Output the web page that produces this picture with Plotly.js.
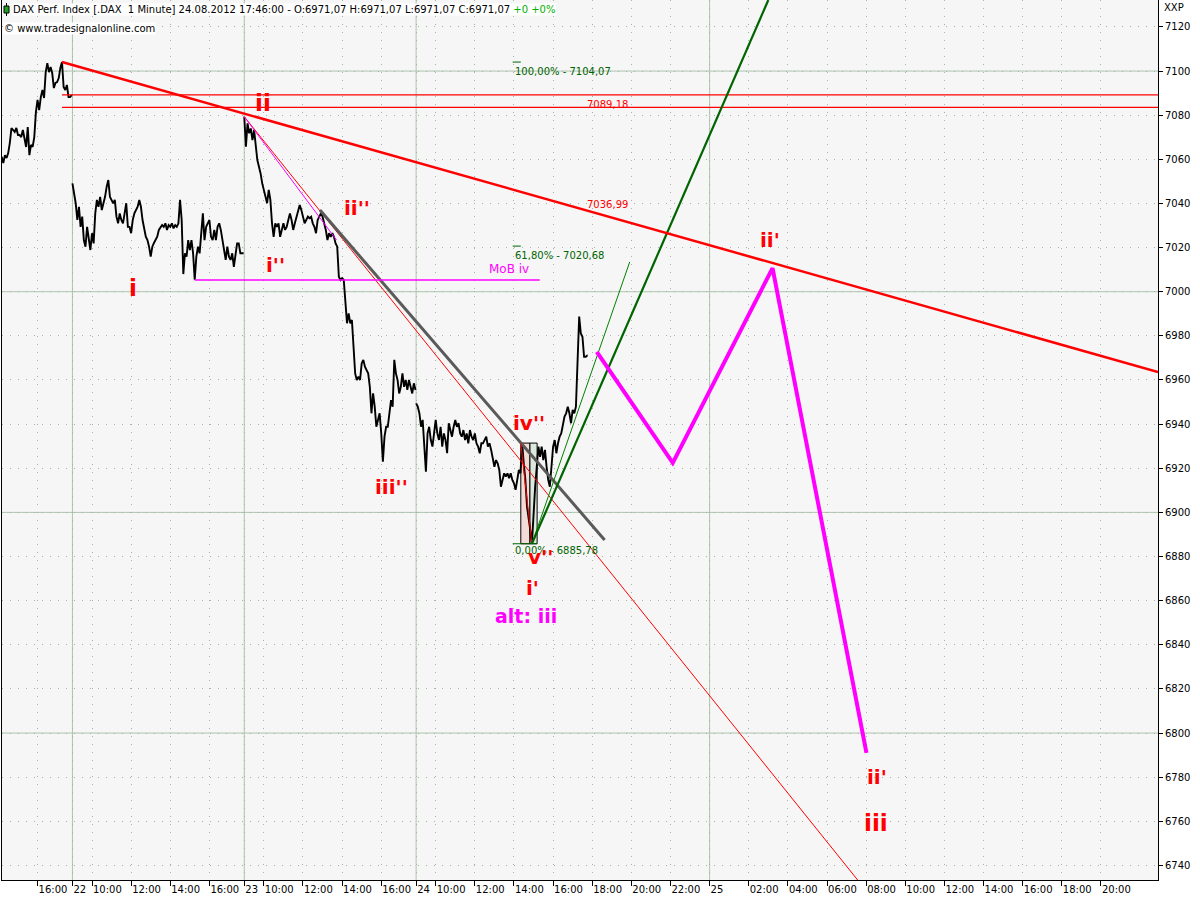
<!DOCTYPE html>
<html><head><meta charset="utf-8">
<script src="https://cdn.plot.ly/plotly-3.0.1.min.js"></script>
<style>html,body{margin:0;padding:0;background:#fff;}#chart{width:1200px;height:900px;}</style>
</head><body><div id="chart"></div>
<script>
// ===================== DATA =====================
const stepMin = 5;
const day21Start = '2012-08-21 14:10';
const day21Close = [7061.2,7058.3,7061.9,7060.6,7062.8,7067.4,7074.2,7073.3,7072.4,7074.2,
7071.0,7071.0,7070.1,7073.3,7070.1,7065.6,7074.6,7061.9,7066.5,7065.6,
7070.1,7081.4,7086.9,7082.3,7088.2,7091.4,7087.8,7099.5,7103.6,7099.5,
7101.8,7099.1,7092.3,7094.6,7095.0,7096.8,7101.4,7104.07,7092.8,7091.4,
7093.7,7088.2,7088.2,7089.18];
const day22Start = '2012-08-22 09:00';
const day22Close = [7049.1,7044.6,7040.1,7032.5,7038.5,7029.4,7034.0,7023.4,7020.4,7029.4,
7023.4,7018.9,7026.5,7021.9,7035.5,7041.6,7038.5,7043.0,7037.0,7040.1,
7043.0,7047.6,7050.6,7043.0,7041.6,7040.1,7041.6,7034.0,7031.0,7035.5,
7032.5,7031.0,7035.5,7040.1,7029.4,7029.4,7026.5,7032.5,7035.5,7037.0,
7038.5,7041.6,7038.5,7032.5,7029.4,7024.9,7023.4,7020.4,7015.9,7020.4,
7022.1,7023.4,7024.9,7028.0,7029.4,7030.2,7029.4,7031.0,7028.0,7030.2,
7029.4,7031.0,7028.7,7030.2,7029.4,7031.0,7041.6,7032.5,7008.0,7017.4,
7015.9,7023.4,7018.9,7023.4,7017.4,7005.5,7015.9,7020.4,7017.4,7026.5,
7035.5,7023.4,7029.4,7031.0,7032.5,7024.9,7023.4,7028.0,7023.4,7029.4,
7031.0,7028.0,7023.4,7018.9,7014.4,7020.4,7015.9,7014.4,7017.4,7011.3,
7015.9,7021.9,7021.9,7017.4,7017.4,7017.4];
const day23Start = '2012-08-23 09:00';
const day23Close = [7079.3,7065.7,7076.3,7071.8,7074.0,7068.7,7073.3,7067.2,7059.7,7056.6,
7053.6,7049.1,7046.1,7043.0,7040.1,7046.1,7041.6,7031.0,7024.9,7031.0,
7029.4,7031.0,7024.9,7028.0,7031.0,7028.0,7029.4,7032.5,7035.5,7032.5,
7028.0,7031.0,7034.0,7037.0,7039.3,7037.0,7034.0,7031.0,7032.5,7034.0,
7033.3,7034.0,7031.0,7029.4,7026.5,7032.5,7034.0,7035.5,7034.0,7031.0,
7028.0,7023.4,7026.5,7024.9,7026.5,7024.9,7021.9,7020.4,7006.8,7005.3,
7006.1,7005.3,6993.2,6985.7,6990.2,6985.7,6987.2,6976.6,6963.0,6960.0,
6961.5,6960.0,6967.5,6969.1,6966.0,6964.5,6963.0,6956.9,6944.9,6953.9,
6947.9,6938.8,6941.9,6944.9,6935.8,6923.0,6934.3,6938.8,6938.8,6944.9,
6950.9,6947.9,6969.1,6963.0,6960.0,6953.9,6956.9,6963.0,6956.9,6960.0,
6955.5,6960.0,6956.9,6953.9,6958.5,6955.5];
const day24Start = '2012-08-24 09:00';
const day24Close = [6949.4,6947.9,6944.9,6938.8,6941.9,6931.3,6918.4,6935.8,6938.8,6932.8,
6929.8,6935.8,6941.9,6935.8,6932.8,6938.8,6929.8,6935.8,6932.8,6926.8,
6940.4,6937.3,6934.3,6938.8,6941.9,6938.8,6940.4,6935.8,6934.3,6937.3,
6932.8,6935.8,6931.3,6937.3,6934.3,6932.8,6935.8,6931.3,6929.8,6926.8,
6931.3,6931.3,6932.8,6934.3,6929.8,6931.3,6928.3,6925.2,6920.7,6923.7,
6922.2,6919.2,6911.6,6914.7,6917.7,6916.2,6917.7,6915.5,6917.7,6914.7,
6913.2,6910.2,6914.7,6919.2,6917.7,6931.4,6922.2,6914.7,6902.6,6898.1,
6892.0,6885.78,6899.6,6911.6,6920.7,6929.8,6925.2,6929.8,6923.7,6928.3,
6920.7,6914.7,6911.6,6919.2,6929.8,6932.8,6926.8,6931.3,6934.3,6935.8,
6940.4,6943.4,6944.9,6947.9,6944.9,6940.4,6946.4,6944.9,6947.9,6966.0,
6988.7,6981.1,6979.6,6970.5,6970.5,6971.07];
const lastBarTime = '2012-08-24 17:46';
const lastBarClose = 6971.07;

// trend / projection lines
const redTrendX = ['2012-08-21 17:15','2012-08-25 22:55'];
const redTrendY = [7104.07, 6963.6];
const level1 = 7089.18, level2 = 7083.5;
const levelX = ['2012-08-21 17:15','2012-08-25 22:55'];
const redThinX = ['2012-08-23 09:00','2012-08-25 07:34'];
const redThinY = [7079.3, 6733.4];
const magThinX = ['2012-08-23 09:00','2012-08-23 13:43'];
const magThinY = [7079.3, 7023.4];
const grayX = ['2012-08-23 12:52','2012-08-24 18:38'];
const grayY = [7037.0, 6887.5];
const mobX = ['2012-08-22 15:15','2012-08-24 15:19'];
const mobLevel = 7005.3;
const greenThickX = ['2012-08-24 14:55','2012-08-25 03:00'];
const greenThickY = [6885.78, 7132.2];
const greenThinX = ['2012-08-24 14:55','2012-08-24 19:55'];
const greenThinY = [6885.78, 7013.5];
const waveRedX = ['2012-08-24 14:21','2012-08-24 14:55'];
const waveRedY = [6931.4, 6885.78];
const projX = ['2012-08-24 18:14','2012-08-24 22:07','2012-08-25 03:13','2012-08-25 08:01'];
const projY = [6972.7, 6922.4, 7010.7, 6791.0];
const fibLevels = [7104.07, 7020.68, 6885.78];
const fibText = ['100,00% - 7104,07','61,80% - 7020,68','0,00% - 6885,78'];
const fibTextY = [7099.6, 7016.6, 6882.5];
const fibX0 = '2012-08-24 13:56';
const fibX1 = ['2012-08-24 14:21','2012-08-24 14:21','2012-08-24 15:11'];
const boxHigh = 6931.4, boxLow = 6885.78;
const boxDownX = ['2012-08-24 14:21','2012-08-24 14:49'];
const boxUpX = ['2012-08-24 14:49','2012-08-24 15:11'];

// wave labels
const waveText = ['i','ii',"i''","ii''","iii''","iv''","v''","i'","ii'","ii'",'iii'];
const waveX = ['2012-08-22 12:05','2012-08-23 09:57','2012-08-23 10:37','2012-08-23 14:45','2012-08-23 16:32','2012-08-24 14:45','2012-08-24 15:22','2012-08-24 14:57','2012-08-25 03:04','2012-08-25 08:32','2012-08-25 08:29'];
const waveY = [7001.7,7085.5,7012.1,7037.9,6911.5,6940.5,6879.8,6865.8,7023.4,6780.1,6759.3];
const waveBig = [true,true,false,false,false,false,false,false,false,false,true];
const altText = 'alt: iii', altX = '2012-08-24 14:36', altY = 6853.1;

// axis ticks
const xTickVals = ['2012-08-21 16:00','2012-08-22 09:00','2012-08-22 10:00','2012-08-22 12:00','2012-08-22 14:00','2012-08-22 16:00',
'2012-08-23 09:00','2012-08-23 10:00','2012-08-23 12:00','2012-08-23 14:00','2012-08-23 16:00',
'2012-08-24 09:00','2012-08-24 10:00','2012-08-24 12:00','2012-08-24 14:00','2012-08-24 16:00','2012-08-24 18:00','2012-08-24 20:00','2012-08-24 22:00',
'2012-08-25 00:00','2012-08-25 02:00','2012-08-25 04:00','2012-08-25 06:00','2012-08-25 08:00','2012-08-25 10:00','2012-08-25 12:00','2012-08-25 14:00','2012-08-25 16:00','2012-08-25 18:00','2012-08-25 20:00'];
const xTickText = ['16:00','22','10:00','12:00','14:00','16:00','23','10:00','12:00','14:00','16:00','24','10:00','12:00','14:00','16:00','18:00','20:00','22:00','25','02:00','04:00','06:00','08:00','10:00','12:00','14:00','16:00','18:00','20:00'];
const dayLines = ['2012-08-22 09:00','2012-08-23 09:00','2012-08-24 09:00','2012-08-25 00:00'];
const sessionBreaks = ['2012-08-21 17:47','2012-08-22 17:47','2012-08-23 17:47'];
const breakLenMs = 54780000;
const yMajor = [7100,7000,6900,6800];

// ===================== BUILD =====================
function addMin(s, m){
  const [d, hm] = s.split(' ');
  const [Y,M,D] = d.split('-').map(Number);
  const [h,mi] = hm.split(':').map(Number);
  const dt = new Date(Date.UTC(Y,M-1,D,h,mi+m));
  const p = n => String(n).padStart(2,'0');
  return dt.getUTCFullYear()+'-'+p(dt.getUTCMonth()+1)+'-'+p(dt.getUTCDate())+' '+p(dt.getUTCHours())+':'+p(dt.getUTCMinutes());
}
const px = [], py = [];
[[day21Start,day21Close],[day22Start,day22Close],[day23Start,day23Close],[day24Start,day24Close]].forEach(([s,vals],k)=>{
  vals.forEach((v,i)=>{px.push(addMin(s,i*stepMin)); py.push(v);});
  if(k===3){px.push(lastBarTime); py.push(lastBarClose);}
  else {px.push(addMin(s,vals.length*stepMin)); py.push(null);}
});

const FONT = 'DejaVu Sans, Verdana, sans-serif';
function line(x,y,color,width){return {x:x,y:y,type:'scatter',mode:'lines',line:{color:color,width:width},hoverinfo:'skip',showlegend:false,cliponaxis:true};}

const traces = [
  {x:px,y:py,type:'scatter',mode:'lines',line:{color:'#000000',width:1.9},connectgaps:false,hoverinfo:'skip'},
  line(levelX,[level1,level1],'#ff0000',1.2),
  line(levelX,[level2,level2],'#ff0000',1.2),
  line(redThinX,redThinY,'#ff0000',1),
  line(magThinX,magThinY,'#ff00ff',1),
  line(grayX,grayY,'#5a5a5a',3),
  line(mobX,[mobLevel,mobLevel],'#ff00ff',1.5),
  line(waveRedX,waveRedY,'#ff0000',1),
  line(greenThinX,greenThinY,'#008000',1),
  line(greenThickX,greenThickY,'#006400',2.2),
  line(redTrendX,redTrendY,'#ff0000',2.5),
  line(projX,projY,'#ff00ff',4),
];
fibLevels.forEach((lv,i)=>traces.push(line([fibX0,fibX1[i]],[lv,lv],'#006400',1)));

const shapes = [];
yMajor.forEach(v=>shapes.push({type:'line',xref:'paper',x0:0,x1:1,yref:'y',y0:v,y1:v,line:{color:'#adc4ad',width:1},layer:'between'}));
dayLines.forEach(v=>shapes.push({type:'line',xref:'x',x0:v,x1:v,yref:'paper',y0:0,y1:1,line:{color:'#adc4ad',width:1},layer:'between'}));
shapes.push({type:'rect',xref:'x',x0:boxDownX[0],x1:boxDownX[1],yref:'y',y0:boxLow,y1:boxHigh,fillcolor:'#f3dcd7',line:{color:'#000000',width:1},layer:'between'});
shapes.push({type:'rect',xref:'x',x0:boxUpX[0],x1:boxUpX[1],yref:'y',y0:boxLow,y1:boxHigh,fillcolor:'#dde9dd',line:{color:'#000000',width:1},layer:'between'});
// header icon
shapes.push({type:'line',xref:'paper',yref:'paper',x0:(6.5-2)/1156,x1:(6.5-2)/1156,y0:1-16/880,y1:1-3/880,line:{color:'#000',width:1},layer:'above'});
shapes.push({type:'rect',xref:'paper',yref:'paper',x0:(4-2)/1156,x1:(9-2)/1156,y0:1-13/880,y1:1-6/880,fillcolor:'#20a020',line:{color:'#000',width:1},layer:'above'});

const ann = [];
ann.push({xref:'paper',yref:'paper',x:(12-2)/1156,y:1-10/880,xanchor:'left',yanchor:'middle',showarrow:false,bgcolor:'#ffffff',borderpad:0,
  text:'DAX Perf. Index [.DAX\u00a0\u00a01 Minute] 24.08.2012 17:46:00 - O:6971,07 H:6971,07 L:6971,07 C:6971,07 <span style="color:#00b000">+0 +0%</span>',
  font:{family:FONT,size:10,color:'#000'}});
ann.push({xref:'paper',yref:'paper',x:(3-2)/1156,y:1-28/880,xanchor:'left',yanchor:'middle',showarrow:false,bgcolor:'#ffffff',borderpad:0,
  text:'© www.tradesignalonline.com',font:{family:FONT,size:10,color:'#000'}});
ann.push({xref:'paper',yref:'paper',x:(1162-2)/1156,y:1-8/880,xanchor:'left',yanchor:'middle',showarrow:false,text:'XXP',font:{family:FONT,size:10,color:'#000'}});
fibText.forEach((t,i)=>ann.push({x:fibX0,y:fibTextY[i],xanchor:'left',yanchor:'middle',showarrow:false,text:t,font:{family:FONT,size:10,color:'#006400'}}));
ann.push({x:'2012-08-24 17:37',y:7085.0,xanchor:'left',yanchor:'middle',showarrow:false,text:'7089,18',font:{family:FONT,size:10,color:'#ff0000'}});
ann.push({x:'2012-08-24 17:37',y:7039.3,xanchor:'left',yanchor:'middle',showarrow:false,text:'7036,99',font:{family:FONT,size:10,color:'#ff0000'}});
ann.push({x:'2012-08-24 13:44',y:7010.3,xanchor:'center',yanchor:'middle',showarrow:false,text:'MoB iv',font:{family:FONT,size:12,color:'#ff00ff'}});
waveText.forEach((t,i)=>ann.push({x:waveX[i],y:waveY[i],xanchor:'center',yanchor:'middle',showarrow:false,text:'<b>'+t+'</b>',
  font:{family:FONT,size:waveBig[i]?23:20,color:'#ff0000'}}));
ann.push({x:altX,y:altY,xanchor:'center',yanchor:'middle',showarrow:false,text:'<b>'+altText+'</b>',font:{family:FONT,size:19,color:'#ff00ff'}});

const layout = {
  width:1200,height:900,
  margin:{l:2,r:42,t:0,b:20,pad:0},
  paper_bgcolor:'#ffffff',plot_bgcolor:'#f6f6f6',
  showlegend:false,hovermode:false,
  xaxis:{type:'date',range:['2012-08-21 14:11','2012-08-25 22:55'],
    rangebreaks:[{values:sessionBreaks,dvalue:breakLenMs}],
    tickmode:'array',tickvals:xTickVals,ticktext:xTickText,tickangle:0,
    ticks:'outside',ticklen:5,tickcolor:'#000',tickwidth:1,
    ticklabelposition:'outside right',
    tickfont:{family:FONT,size:10,color:'#000'},
    showgrid:true,gridcolor:'#a8b2a8',griddash:'1px,7px',gridwidth:1,
    showline:true,linecolor:'#000',linewidth:1,zeroline:false,fixedrange:true},
  yaxis:{side:'right',range:[6733.4,7132.2],tick0:6740,dtick:20,tickmode:'linear',
    ticks:'outside',ticklen:4,tickcolor:'#000',
    tickfont:{family:FONT,size:10,color:'#000'},
    showgrid:true,gridcolor:'#a8b2a8',griddash:'1px,7px',gridwidth:1,
    showline:true,mirror:true,linecolor:'#000',linewidth:1,zeroline:false,fixedrange:true},
  shapes:shapes,annotations:ann
};
Plotly.newPlot('chart',traces,layout,{staticPlot:true,displayModeBar:false});
</script></body></html>
